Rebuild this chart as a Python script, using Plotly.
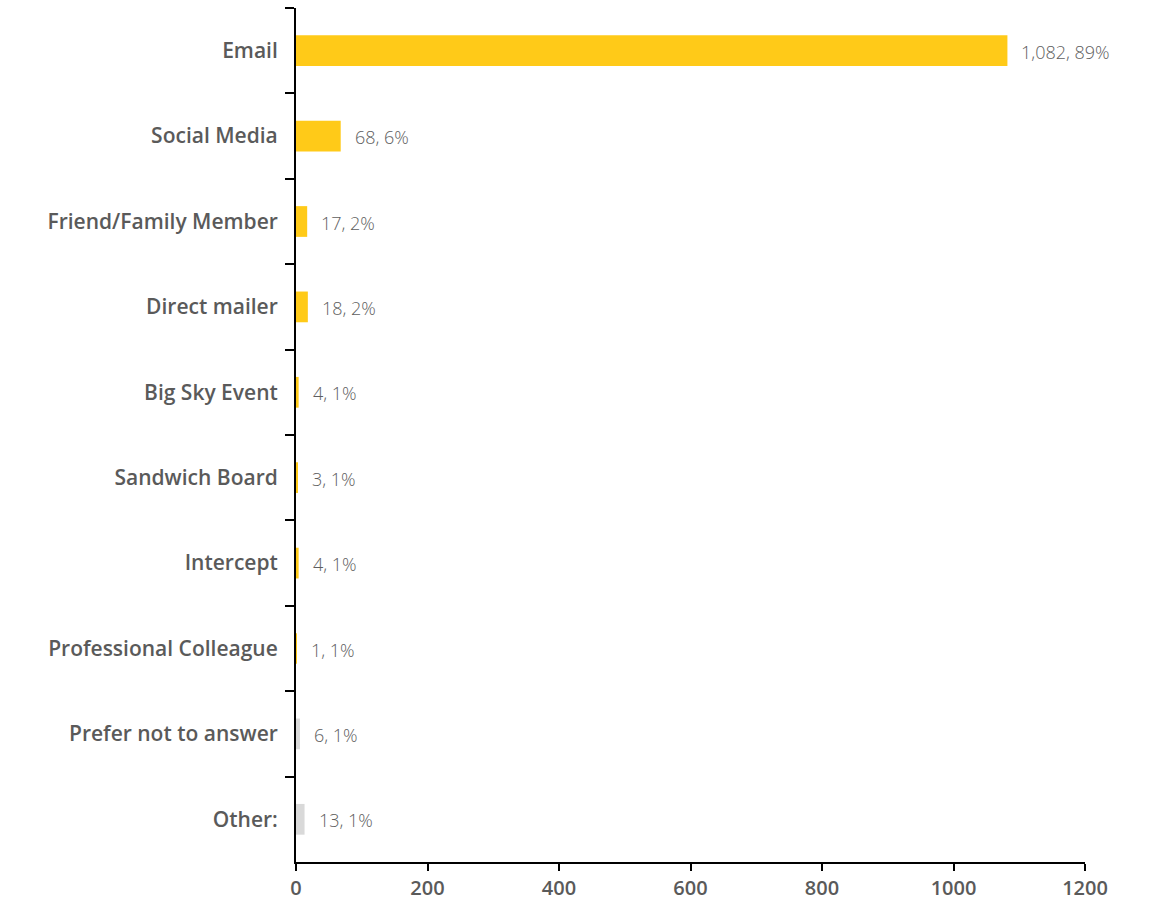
import plotly.graph_objects as go

# Survey: how respondents heard about it
categories = [
    "Email", "Social Media", "Friend/Family Member", "Direct mailer",
    "Big Sky Event", "Sandwich Board", "Intercept", "Professional Colleague",
    "Prefer not to answer", "Other:",
]
counts = [1082, 68, 17, 18, 4, 3, 4, 1, 6, 13]
percents = [89, 6, 2, 2, 1, 1, 1, 1, 1, 1]
x_ticks = [0, 200, 400, 600, 800, 1000, 1200]

YELLOW = "#FFCA18"
GREY = "#D9D9D9"
bar_colors = [YELLOW] * 8 + [GREY] * 2

FONT = "Open Sans"
value_font = dict(family=FONT, size=18, color="#5E5E5E", weight=300)

fig = go.Figure()
fig.add_trace(go.Bar(
    x=counts,
    y=categories,
    orientation="h",
    marker=dict(color=bar_colors, line=dict(width=0)),
    width=0.36,
    hoverinfo="skip",
))

for cat, n, p in zip(categories, counts, percents):
    fig.add_annotation(
        x=n, y=cat, text=f"{n:,}, {p}%",
        xanchor="left", yanchor="middle", xshift=12, yshift=-1,
        showarrow=False, font=value_font,
    )

fig.update_layout(
    width=1150, height=902,
    margin=dict(l=296, r=65, t=8, b=40),
    paper_bgcolor="white", plot_bgcolor="white",
    showlegend=False,
    xaxis=dict(
        range=[0, 1200], tickvals=x_ticks,
        showgrid=False, zeroline=False, automargin=False,
        showline=True, linecolor="#000000", linewidth=2,
        ticks="outside", ticklen=7, tickwidth=2, tickcolor="#000000",
        tickfont=dict(family=FONT, size=20, color="#5A5A5A", weight=600),
        ticklabelstandoff=0,
    ),
    yaxis=dict(
        categoryorder="array", categoryarray=categories,
        autorange="reversed",
        showgrid=False, zeroline=False, automargin=False,
        showline=True, linecolor="#000000", linewidth=2,
        ticks="outside", tickson="boundaries", ticklen=9, tickwidth=2,
        tickcolor="#000000",
        tickfont=dict(family=FONT, size=21, color="#5A5A5A", weight=600),
        ticklabelstandoff=12,
    ),
)

fig.write_html("out.html")
